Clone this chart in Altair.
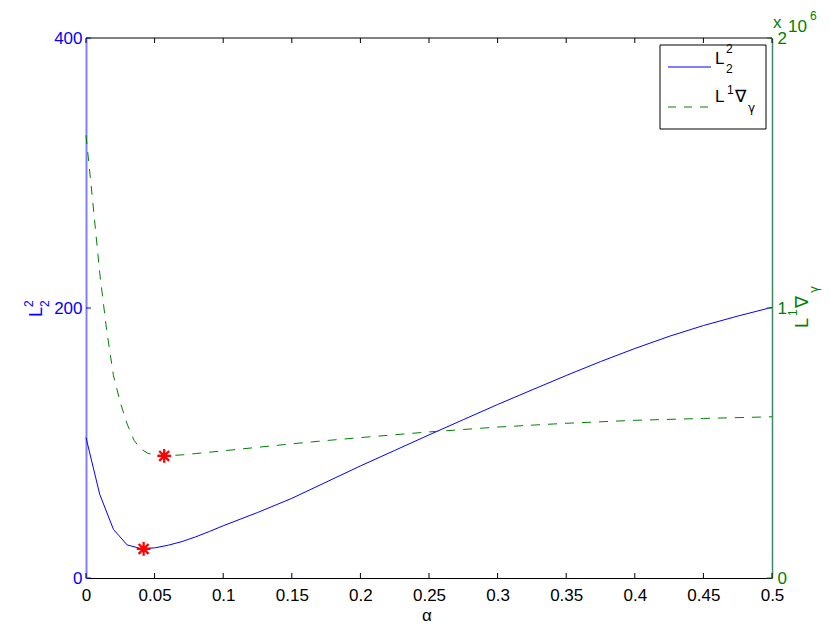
import altair as alt
import pandas as pd

# ---- data ----
alpha_l2 = [0, 0.01, 0.02, 0.03, 0.04, 0.05, 0.06, 0.07, 0.08, 0.09, 0.1, 0.125, 0.15,
            0.175, 0.2, 0.225, 0.25, 0.275, 0.3, 0.325, 0.35, 0.375, 0.4, 0.425,
            0.45, 0.475, 0.5]
l2_vals = [104, 62, 36, 24.5, 21.8, 22.3, 24.3, 27, 30.5, 34.5, 38.7, 48.5, 59,
           71, 83, 94.5, 106, 117.3, 128.5, 139.3, 150, 160.3, 170, 179,
           187, 194, 200.5]

alpha_grad = [0, 0.005, 0.01, 0.015, 0.02, 0.025, 0.03, 0.035, 0.04, 0.045, 0.05,
              0.06, 0.07, 0.08, 0.1, 0.125, 0.15, 0.175, 0.2, 0.25, 0.3, 0.35,
              0.4, 0.45, 0.5]
grad_vals = [1640000, 1390000, 1130000, 920000, 750000, 650000, 570000, 510000,
             478000, 462000, 456000, 453000, 456000, 461000, 471000, 484000,
             497000, 509000, 520000, 541000, 559000, 573000, 584000, 591000, 597000]

l2_min_alpha = [0.042]
l2_min_val = [21.5]
grad_min_alpha = [0.057]
grad_min_val = [452000]

x_ticks = [0, 0.05, 0.1, 0.15, 0.2, 0.25, 0.3, 0.35, 0.4, 0.45, 0.5]
left_ticks = [0, 200, 400]
right_ticks = [0, 1000000, 2000000]

W, H = 686, 540
FONT = "Liberation Sans"
GFONT = "DejaVu Sans"
BLUE = "#0000ff"
GREEN = "#008000"
STAR = "M-1,0L1,0M0,-1L0,1M-0.72,-0.72L0.72,0.72M-0.72,0.72L0.72,-0.72"

df_l2 = pd.DataFrame({"a": alpha_l2, "u": l2_vals})
df_grad = pd.DataFrame({"a": alpha_grad, "v": grad_vals})
df_l2min = pd.DataFrame({"a": l2_min_alpha, "u": l2_min_val})
df_gmin = pd.DataFrame({"a": grad_min_alpha, "v": grad_min_val})
df_xt = pd.DataFrame({"a": x_ticks})
df_lt = pd.DataFrame({"u": left_ticks})
df_rt = pd.DataFrame({"v": right_ticks})
dummy = pd.DataFrame({"k": [0]})

xscale = alt.Scale(domain=[0, 0.5], nice=False, zero=False)
lscale = alt.Scale(domain=[0, 400], nice=False)
rscale = alt.Scale(domain=[0, 2000000], nice=False)

xaxis = alt.Axis(values=x_ticks, format="~g", ticks=False, grid=False, title=None,
                 domainColor="black", domainWidth=1, labelColor="black",
                 labelFont=FONT, labelFontSize=17, labelPadding=9,
                 labelFlush=False, labelOverlap=False, labelBound=False)
laxis = alt.Axis(orient="left", values=left_ticks, ticks=False, grid=False, title=None,
                 domainColor="#8080ff", domainWidth=2, labelColor=BLUE,
                 labelFont=FONT, labelFontSize=17, labelPadding=4,
                 labelFlush=False, labelOverlap=False)
raxis = alt.Axis(orient="right", values=right_ticks, ticks=False, grid=False, title=None,
                 domainColor="#3a8a66", domainWidth=1.5, labelColor=GREEN,
                 labelFont=FONT, labelFontSize=17, labelPadding=5,
                 labelFlush=False, labelOverlap=False,
                 labelExpr="'' + datum.value / 1000000")

X = alt.X("a:Q", scale=xscale, axis=xaxis)
YL = alt.Y("u:Q", scale=lscale, axis=laxis)
YR = alt.Y("v:Q", scale=rscale, axis=raxis)


def txt(t, x, y, size, color, angle=0, align="left", font=FONT):
    mk = dict(text=t, align=align, baseline="alphabetic", fontSize=size,
              font=font, color=color)
    if angle:
        mk["angle"] = angle
    return alt.Chart(dummy).mark_text(**mk).encode(x=alt.value(x), y=alt.value(y))


# ---- left group (L2^2) ----
blue_line = alt.Chart(df_l2).mark_line(color=BLUE, strokeWidth=1).encode(x=X, y=YL)
blue_star = alt.Chart(df_l2min).mark_point(shape=STAR, size=190, filled=False,
                                           color="#ff0000", strokeWidth=2.3,
                                           opacity=1).encode(x=X, y=YL)
xt_bottom = alt.Chart(df_xt).mark_rule(color="black", strokeWidth=1).encode(
    x=X, y=alt.value(H), y2=alt.value(H - 5))
xt_top = alt.Chart(df_xt).mark_rule(color="black", strokeWidth=1).encode(
    x=X, y=alt.value(0), y2=alt.value(5))
lt = alt.Chart(df_lt).mark_rule(color=BLUE, strokeWidth=1).encode(
    y=YL, x=alt.value(0), x2=alt.value(5))
top_border = alt.Chart(dummy).mark_rule(color="black", strokeWidth=1).encode(
    x=alt.value(0), x2=alt.value(W), y=alt.value(0))

left_group = alt.layer(xt_bottom, xt_top, top_border, lt, blue_line, blue_star)

# ---- right group (L1 grad) ----
green_line = alt.Chart(df_grad).mark_line(color=GREEN, strokeWidth=1,
                                          strokeDash=[9, 8]).encode(x=X, y=YR)
green_star = alt.Chart(df_gmin).mark_point(shape=STAR, size=190, filled=False,
                                           color="#ff0000", strokeWidth=2.3,
                                           opacity=1).encode(x=X, y=YR)
rt = alt.Chart(df_rt).mark_rule(color=GREEN, strokeWidth=1).encode(
    y=YR, x=alt.value(W - 5), x2=alt.value(W))

right_group = alt.layer(rt, green_line, green_star)

# ---- legend box ----
leg_box = alt.Chart(dummy).mark_rect(fill="white", stroke="black", strokeWidth=1).encode(
    x=alt.value(574), x2=alt.value(680), y=alt.value(7), y2=alt.value(91))
leg_blue = alt.Chart(dummy).mark_rule(color=BLUE, strokeWidth=1).encode(
    x=alt.value(582), x2=alt.value(625), y=alt.value(29))
leg_green = alt.Chart(dummy).mark_rule(color=GREEN, strokeWidth=1, strokeDash=[8, 8]).encode(
    x=alt.value(582), x2=alt.value(625), y=alt.value(69))

annotations = [
    leg_box, leg_blue, leg_green,
    txt("L", 629, 25.5, 17, "black"),
    txt("2", 640, 15, 12, "black"),
    txt("2", 640, 35, 12, "black"),
    txt("L", 629, 64, 17, "black"),
    txt("1", 641, 56, 12, "black"),
    txt("\u2207", 649, 64, 17, "black", font=GFONT),
    txt("\u03b3", 662, 74, 12, "black", font=GFONT),
    # x 10^6
    txt("x", 687, -10, 17, GREEN),
    txt("10", 702, -6.5, 17, GREEN),
    txt("6", 724, -18, 12, GREEN),
    # x axis title
    txt("\u03b1", 341, 583, 17, "black", align="center"),
    # left y title  L_2^2 (rotated)
    txt("L", -44, 279, 18, BLUE, angle=270),
    txt("2", -53, 269, 12, BLUE, angle=270),
    txt("2", -37, 269, 12, BLUE, angle=270),
    # right y title  L^1 nabla_gamma (rotated)
    txt("L", 722, 290, 18, GREEN, angle=270),
    txt("1", 711, 278, 12, GREEN, angle=270),
    txt("\u2207", 722, 270, 18, GREEN, angle=270, font=GFONT),
    txt("\u03b3", 732, 255, 12, GREEN, angle=270, font=GFONT),
]

chart = alt.layer(left_group, right_group, *annotations).resolve_scale(
    y="independent"
).properties(
    width=W, height=H,
    autosize=alt.AutoSizeParams(type="none"),
    padding={"left": 78, "top": 30, "right": 50, "bottom": 46},
    background="white",
).configure_view(stroke=None)

chart.save("out.html", embed_options={"renderer": "svg", "actions": False})
